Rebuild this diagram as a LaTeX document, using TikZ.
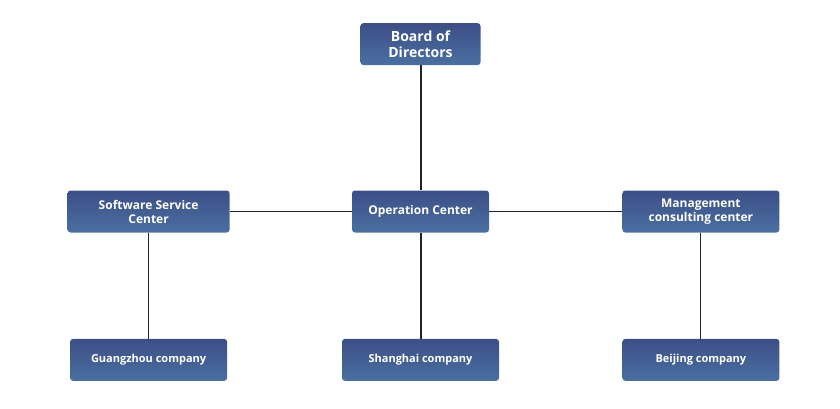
\documentclass[tikz,border=0pt]{standalone}
\usepackage{fontspec}
\setmainfont{Open Sans}
\usetikzlibrary{positioning}

\definecolor{boxTop}{HTML}{3C4F86}
\definecolor{boxBottom}{HTML}{4A6FA1}
\definecolor{lineDark}{HTML}{222222}

\tikzset{
    orgBox/.style={rounded corners=3pt, top color=boxTop, bottom color=boxBottom,
        text=white, align=center, minimum height=42pt, inner sep=2pt,
        font=\bfseries\fontsize{12}{14}\selectfont},
    smallBox/.style={orgBox, minimum width=157pt, font=\bfseries\fontsize{11}{13}\selectfont},
    orgLine/.style={draw=lineDark, line width=1pt},
}

\begin{document}
\begin{tikzpicture}[x=1pt, y=1pt]
    \useasboundingbox (0,0) rectangle (840,-409);
    % middle row
    \node[orgBox, minimum width=137pt] (opCenter) at (420.5,-211.5) {Operation Center};
    \node[orgBox, minimum width=162pt, left=122pt of opCenter] (swCenter) {Software Service\\Center};
    \node[orgBox, minimum width=157pt, right=133pt of opCenter] (mgmtCenter) {Management\\consulting center};
    % top
    \node[orgBox, minimum width=120pt, font=\bfseries\fontsize{14}{16}\selectfont,
        above=125pt of opCenter] (board) {Board of\\Directors};
    % bottom row
    \node[smallBox, below=106pt of swCenter] (gzCompany) {Guangzhou company};
    \node[smallBox, below=106pt of opCenter] (shCompany) {Shanghai company};
    \node[smallBox, below=106pt of mgmtCenter] (bjCompany) {Beijing company};

    \draw[orgLine, line width=2pt] (board) -- (opCenter) -- (shCompany);
    \draw[orgLine] (swCenter) -- (opCenter) -- (mgmtCenter);
    \draw[orgLine] (swCenter) -- (gzCompany);
    \draw[orgLine] (mgmtCenter) -- (bjCompany);
\end{tikzpicture}
\end{document}
